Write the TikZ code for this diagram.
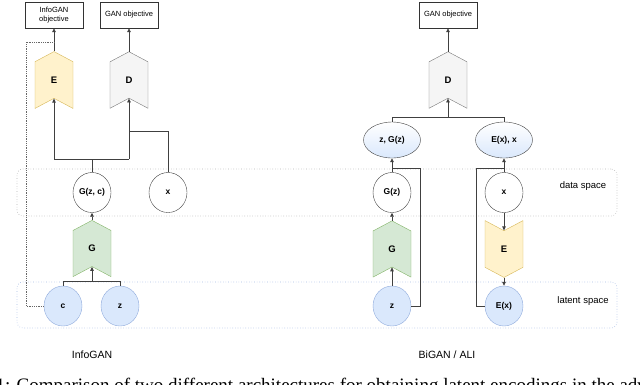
\documentclass[tikz,border=0pt]{standalone}
\usepackage{fontspec}
\setmainfont{Liberation Sans}
\newfontfamily\capfont{Liberation Serif}
\usepackage{tikz}
\usetikzlibrary{arrows.meta,shapes.geometric,shapes.symbols}

\definecolor{encfill}{HTML}{FFF2CC}
\definecolor{encdraw}{HTML}{D6B656}
\definecolor{genfill}{HTML}{D5E8D4}
\definecolor{gendraw}{HTML}{82B366}
\definecolor{latfill}{HTML}{DAE8FC}
\definecolor{latdraw}{HTML}{8FAADC}
\definecolor{disfill}{HTML}{F5F5F5}
\definecolor{disdraw}{HTML}{777777}

\begin{document}
\begin{tikzpicture}[
  x=1pt, y=-1pt,
  obj/.style={draw=black!80, fill=white, minimum width=58pt, minimum height=26pt, inner sep=1pt, align=center, font=\fontsize{7.5}{8.5}\selectfont},
  net/.style={shape=signal, draw, minimum width=38pt, minimum height=40pt, signal pointer angle=124, inner sep=0pt, font=\bfseries\fontsize{9.5}{10}\selectfont},
  up/.style={signal to=north, signal from=south},
  down/.style={signal to=south, signal from=north},
  var/.style={ellipse, draw=black!75, fill=white, minimum width=38pt, minimum height=40pt, inner sep=0pt, font=\bfseries\fontsize{8.5}{10}\selectfont},
  lat/.style={var, draw=latdraw, fill=latfill},
  pair/.style={var, top color=white, bottom color=latfill, minimum width=57pt, minimum height=36pt},
  space/.style={rounded corners=6pt, dotted, line width=0.6pt, minimum width=600pt, inner sep=0pt},
  tag/.style={font=\fontsize{9.5}{10}\selectfont},
  title/.style={font=\fontsize{10.5}{12}\selectfont},
  line/.style={draw=black!75, line width=0.7pt},
  arr/.style={line, -{Triangle[length=4pt,width=3.5pt]}},
  fb/.style={draw=black!60, densely dotted, line width=0.8pt}
]
\useasboundingbox (0,0) rectangle (640,384);

% spaces
\node[space, draw=black!30, minimum height=47pt] (dspace) at (317,192.5) {};
\node[space, draw=latdraw!80, minimum height=46pt] (lspace) at (317,305) {};
\node[tag] (dtag) at (583,186) {data space};
\node[tag] (ltag) at (583,301) {latent space};

% InfoGAN
\node[obj] (objI) at (54,15) {InfoGAN\\objective};
\node[obj] (ganI) at (129,15) {GAN objective};
\node[net, up, draw=encdraw, fill=encfill] (encI) at (54,80) {E};
\node[net, up, draw=disdraw, fill=disfill] (disI) at (129,80) {D};
\node[var] (gzc) at (92,192.5) {G(z, c)};
\node[var] (xI) at (168,192.5) {x};
\node[net, up, draw=gendraw, fill=genfill] (genI) at (92,248.5) {G};
\node[lat] (c) at (63,306) {c};
\node[lat] (zI) at (120,306) {z};
\node[title] (infogan) at (92,355) {InfoGAN};

\coordinate (jD) at (129,159);
\coordinate (jX) at (129,131);
\coordinate (jG) at (92,281);
\coordinate (fbc) at (26,42);

\draw[arr] (encI.north) -- (objI.south);
\draw[arr] (disI.north) -- (ganI.south);
\draw[line] (gzc.north) |- (jD);
\draw[arr] (jD) -| (encI.south);
\draw[arr] (jD) -- (disI.south);
\draw[line] (xI.north) |- (jX);
\draw[arr] (genI.north) -- (gzc.south);
\draw[line] (c.north) |- (jG);
\draw[line] (zI.north) |- (jG);
\draw[arr] (jG) -- (genI.south);
\draw[fb] (c.west) -| (fbc) -- (encI.north |- fbc);

% BiGAN / ALI
\node[obj] (ganR) at (448,15) {GAN objective};
\node[net, up, draw=disdraw, fill=disfill] (disR) at (448,80) {D};
\node[pair] (zg) at (392,140) {z, G(z)};
\node[pair] (ex) at (504,140) {E(x), x};
\node[var] (gz) at (392,192.5) {G(z)};
\node[var] (xR) at (504,192.5) {x};
\node[net, up, draw=gendraw, fill=genfill] (genR) at (392,249) {G};
\node[net, down, draw=encdraw, fill=encfill] (encR) at (504,249) {E};
\node[lat] (zR) at (392,306) {z};
\node[lat] (exl) at (504,306) {E(x)};
\node[title] (bigan) at (447,355) {BiGAN / ALI};

\coordinate (jR) at (448,117);
\coordinate (bz) at (420,168);
\coordinate (bx) at (476,168);

\draw[arr] (disR.north) -- (ganR.south);
\draw[line] (zg.north) |- (jR);
\draw[line] (ex.north) |- (jR);
\draw[arr] (jR) -- (disR.south);
\draw[arr] (gz.north) -- (zg.south);
\draw[arr] (genR.north) -- (gz.south);
\draw[arr] (zR.north) -- (genR.south);
\draw[line] (zR.east) -| (bz) -- (gz.north |- bz);
\draw[arr] (xR.north) -- (ex.south);
\draw[arr] (xR.south) -- (encR.north);
\draw[arr] (encR.south) -- (exl.north);
\draw[line] (exl.west) -| (bx) -- (xR.north |- bx);

% caption, cut by the page edge
\begin{scope}
  \clip (0,0) rectangle (640,384);
  \node[anchor=base west, inner sep=0pt, font=\capfont\fontsize{19}{21}\selectfont] (caption) at (-4.6,391) {1: Comparison of two different architectures for obtaining latent encodings in the adversarial};
\end{scope}
\end{tikzpicture}
\end{document}
